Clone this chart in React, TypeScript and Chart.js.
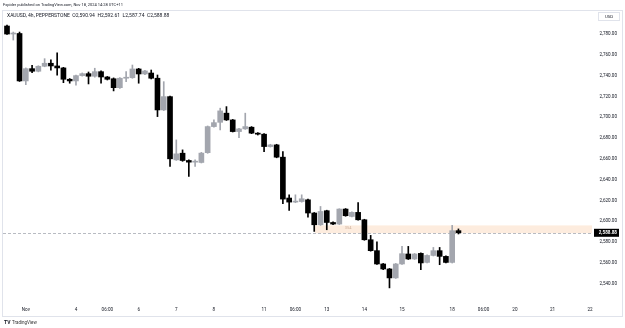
import { useEffect, useRef } from "react";
import { Chart, registerables } from "chart.js";

Chart.register(...registerables);

// 4h candles, XAUUSD
const opens = [
  2787.7, 2780.0, 2780.5, 2734.9, 2746.7, 2744.2, 2749.0, 2751.9, 2749.3, 2747.4,
  2736.5, 2734.9, 2740.0, 2741.9, 2739.4, 2743.8, 2738.7, 2737.0, 2728.4, 2737.5,
  2738.0, 2746.4, 2741.6, 2742.5, 2737.5, 2707.0, 2719.8, 2659.0, 2665.4, 2658.4,
  2656.8, 2656.5, 2665.9, 2691.0, 2695.1, 2703.9, 2697.4, 2686.2, 2688.8, 2690.4,
  2684.7, 2683.7, 2671.8, 2673.4, 2661.6, 2622.3, 2618.4, 2618.9, 2620.6, 2607.9,
  2596.6, 2610.1, 2598.8, 2597.3, 2611.7, 2604.6, 2608.5, 2601.4, 2582.2, 2571.7,
  2558.9, 2554.1, 2545.5, 2558.9, 2568.5, 2563.7, 2569.1, 2560.4, 2567.1, 2571.7,
  2566.2, 2560.4, 2590.94,
];
const highs = [
  2788.5, 2781.9, 2781.9, 2747.4, 2750.0, 2749.5, 2756.3, 2755.3, 2762.0, 2748.0,
  2737.2, 2740.6, 2742.6, 2743.5, 2747.1, 2744.5, 2739.2, 2737.8, 2738.2, 2743.8,
  2750.2, 2747.0, 2745.0, 2745.4, 2740.6, 2734.2, 2720.4, 2678.2, 2668.6, 2659.0,
  2659.0, 2666.2, 2691.6, 2697.4, 2708.7, 2710.2, 2697.9, 2689.3, 2703.9, 2691.0,
  2685.2, 2684.3, 2674.0, 2674.0, 2667.0, 2625.4, 2625.4, 2625.4, 2621.2, 2608.4,
  2614.2, 2610.6, 2599.4, 2612.0, 2612.2, 2609.0, 2618.0, 2601.9, 2586.4, 2580.3,
  2559.4, 2554.6, 2559.4, 2575.8, 2575.8, 2569.0, 2569.6, 2567.6, 2574.8, 2574.8,
  2566.7, 2596.0, 2592.61,
];
const lows = [
  2779.5, 2774.2, 2734.4, 2731.3, 2742.8, 2743.6, 2748.5, 2745.2, 2740.4, 2733.2,
  2732.7, 2730.8, 2739.5, 2732.0, 2738.5, 2732.7, 2735.8, 2725.3, 2727.8, 2734.2,
  2737.4, 2732.7, 2741.0, 2736.8, 2700.6, 2706.4, 2652.6, 2658.5, 2657.6, 2643.0,
  2652.6, 2656.0, 2665.3, 2690.4, 2687.8, 2696.9, 2685.8, 2680.4, 2688.3, 2684.2,
  2682.9, 2667.0, 2671.3, 2661.0, 2616.8, 2610.4, 2617.8, 2618.3, 2604.0, 2590.2,
  2596.0, 2591.8, 2596.7, 2596.8, 2604.8, 2604.1, 2600.9, 2581.7, 2571.2, 2558.4,
  2553.4, 2535.9, 2545.0, 2558.4, 2563.2, 2563.2, 2553.4, 2559.9, 2566.6, 2558.2,
  2559.9, 2559.8, 2587.74,
];
const closes = [
  2780.0, 2780.5, 2734.9, 2746.7, 2744.2, 2749.0, 2751.9, 2749.3, 2747.4, 2736.5,
  2734.9, 2740.0, 2741.9, 2739.4, 2743.8, 2738.7, 2736.5, 2728.4, 2737.5, 2738.0,
  2746.4, 2741.6, 2744.5, 2737.5, 2707.0, 2719.8, 2660.0, 2664.8, 2658.4, 2656.8,
  2657.1, 2665.5, 2691.0, 2694.8, 2706.1, 2697.4, 2686.2, 2688.8, 2691.0, 2684.7,
  2683.7, 2671.8, 2673.4, 2661.6, 2621.3, 2618.4, 2618.9, 2621.6, 2607.9, 2596.6,
  2609.4, 2598.8, 2597.3, 2611.7, 2605.3, 2608.5, 2601.4, 2582.2, 2571.7, 2558.9,
  2554.1, 2545.5, 2558.9, 2568.8, 2563.7, 2568.5, 2559.9, 2567.1, 2571.7, 2566.2,
  2560.4, 2590.9, 2588.88,
];

const priceTicks = [2540, 2560, 2580, 2600, 2620, 2640, 2660, 2680, 2700, 2720, 2740, 2760, 2780];
const timeLabels = ["Nov", "4", "06:00", "6", "7", "8", "11", "06:00", "13", "14", "15", "18", "06:00", "20", "21", "22"];
const timeLabelIndex = [3, 11, 16, 21, 27, 33, 41, 46, 51, 57, 63, 71, 76, 81, 87, 93];

const zoneLow = 2588.5;
const zoneHigh = 2596.0;
const zoneStartIndex = 49.1;
const zoneText = "354";

const headerText = "Fxpider published on TradingView.com, Nov 18, 2024 14:28 UTC+11";
const legendText = "XAUUSD, 4h, PEPPERSTONE  O2,590.94  H2,592.61  L2,587.74  C2,588.88";

const UP = "#a3a6ae";
const DOWN = "#000000";
const FONT = "Roboto, 'Liberation Sans', sans-serif";

function fmt(v: number) {
  return v.toLocaleString("en-US", { minimumFractionDigits: 2, maximumFractionDigits: 2 });
}

const overlayPlugin = {
  id: "tvOverlay",
  beforeDatasetsDraw(chart: any) {
    const { ctx, chartArea, scales } = chart;
    const x = scales.x;
    const y = scales.y;
    ctx.save();
    const bx = x.getPixelForValue(zoneStartIndex);
    const y1 = y.getPixelForValue(zoneHigh);
    const y2 = y.getPixelForValue(zoneLow);
    ctx.fillStyle = "rgba(251,224,200,0.6)";
    ctx.fillRect(bx, y1, chartArea.right - bx, y2 - y1);
    ctx.fillStyle = "rgba(200,170,150,0.9)";
    ctx.font = `4px ${FONT}`;
    ctx.textAlign = "center";
    ctx.textBaseline = "middle";
    ctx.fillText(zoneText, x.getPixelForValue(54.4), (y1 + y2) / 2 - 1);
    const last = closes[closes.length - 1];
    const ly = Math.round(y.getPixelForValue(last)) + 0.5;
    ctx.strokeStyle = "#b8bbc2";
    ctx.lineWidth = 1;
    ctx.setLineDash([3, 2]);
    ctx.beginPath();
    ctx.moveTo(chartArea.left, ly);
    ctx.lineTo(chartArea.right, ly);
    ctx.stroke();
    ctx.restore();
  },
  afterDraw(chart: any) {
    const { ctx, scales } = chart;
    const x = scales.x;
    const y = scales.y;
    ctx.save();
    ctx.strokeStyle = "#e0e3eb";
    ctx.lineWidth = 1;
    ctx.strokeRect(2.5, 10.5, 620, 306);
    ctx.fillStyle = "#131722";
    ctx.textBaseline = "middle";
    ctx.textAlign = "left";
    ctx.font = `4px ${FONT}`;
    ctx.fillText(headerText, 3, 5);
    ctx.font = `5px ${FONT}`;
    ctx.fillText(legendText, 7, 16);
    ctx.strokeStyle = "#e0e3eb";
    ctx.strokeRect(598.5, 12.5, 21, 8);
    ctx.textAlign = "center";
    ctx.font = `4.3px ${FONT}`;
    ctx.fillText("USD", 609, 16.8);
    ctx.textAlign = "right";
    ctx.font = `4.6px ${FONT}`;
    priceTicks.forEach((v) => {
      ctx.fillText(fmt(v), 617, y.getPixelForValue(v));
    });
    const last = closes[closes.length - 1];
    const lpy = y.getPixelForValue(last);
    ctx.fillStyle = "#000000";
    ctx.fillRect(594, lpy - 4, 25, 8);
    ctx.fillStyle = "#ffffff";
    ctx.font = `bold 4.6px ${FONT}`;
    ctx.fillText(fmt(last), 617, lpy + 0.3);
    ctx.fillStyle = "#131722";
    ctx.textAlign = "center";
    ctx.font = `4.6px ${FONT}`;
    timeLabels.forEach((t, i) => {
      ctx.fillText(t, x.getPixelForValue(timeLabelIndex[i]), 310);
    });
    ctx.textAlign = "left";
    ctx.font = `bold 5px ${FONT}`;
    ctx.fillText("TV", 4, 322.5);
    ctx.font = `4.5px ${FONT}`;
    ctx.fillStyle = "#333333";
    ctx.fillText("TradingView", 12, 322.5);
    ctx.restore();
  },
};

export default function App() {
  const ref = useRef<HTMLCanvasElement>(null);

  useEffect(() => {
    document.body.style.margin = "0";
    const canvas = ref.current;
    if (!canvas) return;
    const color = opens.map((o, i) => (closes[i] >= o ? UP : DOWN));
    const chart = new Chart(canvas, {
      type: "bar",
      data: {
        datasets: [
          {
            label: "body",
            data: opens.map((o, i) => ({ x: i, y: [o, closes[i]] })) as any,
            backgroundColor: color,
            borderWidth: 0,
            barThickness: 5,
            minBarLength: 1,
            grouped: false,
          } as any,
          {
            label: "wick",
            data: lows.map((l, i) => ({ x: i, y: [l, highs[i]] })) as any,
            backgroundColor: color,
            borderWidth: 0,
            barThickness: 1,
            minBarLength: 1,
            grouped: false,
          } as any,
        ],
      },
      options: {
        responsive: false,
        animation: false,
        devicePixelRatio: 1,
        layout: { padding: { left: 3, right: 33, top: 10, bottom: 27 } },
        plugins: { legend: { display: false }, tooltip: { enabled: false } },
        scales: {
          x: { type: "linear", min: -0.638, max: 93.3, offset: false, display: false },
          y: { type: "linear", min: 2523.3, max: 2803.1, display: false },
        },
      },
      plugins: [overlayPlugin],
    });
    return () => chart.destroy();
  }, []);

  return (
    <div style={{ width: 625, height: 328, background: "#ffffff" }}>
      <canvas ref={ref} width={625} height={328} style={{ display: "block", width: 625, height: 328 }} />
    </div>
  );
}
